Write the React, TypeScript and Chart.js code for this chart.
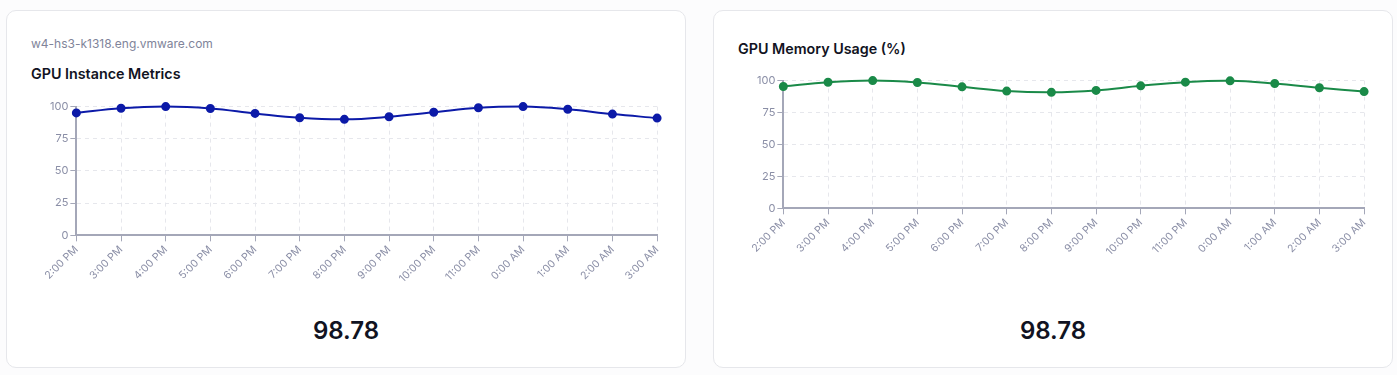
import React, { useEffect, useRef } from "react";
import { Chart, registerables } from "chart.js";

Chart.register(...registerables);

const hours = [
  "2:00 PM", "3:00 PM", "4:00 PM", "5:00 PM", "6:00 PM", "7:00 PM", "8:00 PM",
  "9:00 PM", "10:00 PM", "11:00 PM", "0:00 AM", "1:00 AM", "2:00 AM", "3:00 AM",
];
const instanceValues = [95.1, 98.7, 100, 98.5, 94.7, 91.3, 90.1, 92.1, 95.6, 99.1, 100, 97.9, 94.2, 91.1];
const memoryValues = [95.4, 98.7, 100, 98.5, 95.1, 91.8, 90.8, 92.3, 95.9, 98.8, 99.8, 97.7, 94.4, 91.4];
const yTicks = [0, 25, 50, 75, 100];

const hostName = "w4-hs3-k1318.eng.vmware.com";
const instanceTitle = "GPU Instance Metrics";
const memoryTitle = "GPU Memory Usage (%)";
const instanceStat = "98.78";
const memoryStat = "98.78";

const FONT = "Inter, 'Noto Sans', sans-serif";
const TICK_COLOR = "#8a8ea6";

function LineChart(props: { values: number[]; color: string; padLeft: number; height: number }) {
  const ref = useRef<HTMLCanvasElement | null>(null);
  useEffect(() => {
    if (!ref.current) return;
    const chart = new Chart(ref.current, {
      type: "line",
      data: {
        labels: hours,
        datasets: [
          {
            data: props.values,
            borderColor: props.color,
            backgroundColor: props.color,
            pointBackgroundColor: props.color,
            pointBorderColor: props.color,
            pointRadius: 3.5,
            borderWidth: 2,
            tension: 0.4,
            fill: false,
            clip: false,
          },
        ],
      },
      options: {
        animation: false,
        responsive: false,
        maintainAspectRatio: false,
        layout: { padding: { left: props.padLeft, right: 0, top: 0, bottom: 0 } },
        plugins: { legend: { display: false }, tooltip: { enabled: false } },
        scales: {
          x: {
            grid: {
              color: "#e6e7ec",
              tickColor: "#a4a7b8",
              tickLength: 6,
              tickBorderDash: [],
            },
            border: { color: "#a4a7b8", width: 2, dash: [4, 4] },
            ticks: {
              color: TICK_COLOR,
              font: { family: FONT, size: 10.5 },
              maxRotation: 45,
              minRotation: 45,
              autoSkip: false,
              padding: 2,
            },
          },
          y: {
            min: 0,
            max: 100,
            afterBuildTicks: (axis: any) => {
              axis.ticks = yTicks.map((v) => ({ value: v }));
            },
            grid: {
              color: "#e6e7ec",
              tickColor: "#a4a7b8",
              tickLength: 6,
              tickBorderDash: [],
            },
            border: { color: "#a4a7b8", width: 2, dash: [4, 4] },
            ticks: {
              color: TICK_COLOR,
              font: { family: FONT, size: 11 },
              padding: 2,
            },
          },
        },
      } as any,
    });
    return () => chart.destroy();
  }, []);
  return <canvas ref={ref} width={637} height={props.height} style={{ display: "block" }} />;
}

function Card(props: {
  left: number;
  host?: string;
  title: string;
  titleTop: number;
  chartTop: number;
  chartHeight: number;
  values: number[];
  color: string;
  stat: string;
  padLeft: number;
}) {
  return (
    <div
      style={{
        position: "absolute",
        left: props.left,
        top: 10,
        width: 680,
        height: 358,
        background: "#ffffff",
        border: "1px solid #e6e7eb",
        borderRadius: 10,
        boxSizing: "border-box",
        fontFamily: FONT,
      }}
    >
      {props.host && (
        <div
          style={{
            position: "absolute",
            left: 24,
            top: 25,
            fontSize: 12,
            lineHeight: "16px",
            color: "#80849a",
          }}
        >
          {props.host}
        </div>
      )}
      <div
        style={{
          position: "absolute",
          left: 24,
          top: props.titleTop,
          fontSize: 14.3,
          lineHeight: "20px",
          fontWeight: 600,
          color: "#111322",
        }}
      >
        {props.title}
      </div>
      <div style={{ position: "absolute", left: 24, top: props.chartTop }}>
        <LineChart
          values={props.values}
          color={props.color}
          padLeft={props.padLeft}
          height={props.chartHeight}
        />
      </div>
      <div
        style={{
          position: "absolute",
          left: 0,
          width: "100%",
          top: 304,
          textAlign: "center",
          fontSize: 24,
          lineHeight: "32px",
          fontWeight: 600,
          color: "#111322",
        }}
      >
        {props.stat}
      </div>
    </div>
  );
}

export default function App() {
  return (
    <div style={{ position: "relative", width: 1397, height: 375 }}>
      <style>{"body{margin:0;background:#fcfcfd;}"}</style>
      <Card
        left={6}
        host={hostName}
        title={instanceTitle}
        titleTop={53}
        chartTop={87}
        chartHeight={189}
        values={instanceValues}
        color="#0c1aa8"
        stat={instanceStat}
        padLeft={17}
      />
      <Card
        left={713}
        title={memoryTitle}
        titleTop={28}
        chartTop={61}
        chartHeight={188}
        values={memoryValues}
        color="#1a8a48"
        stat={memoryStat}
        padLeft={17}
      />
    </div>
  );
}
